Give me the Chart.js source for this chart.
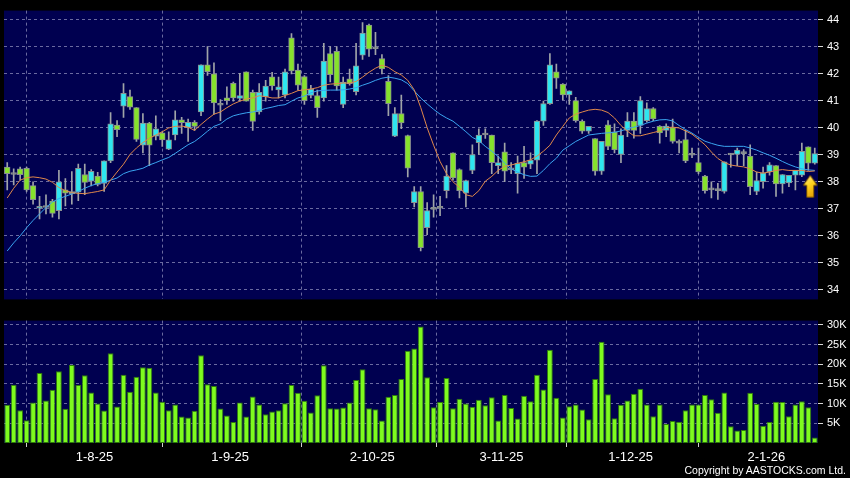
<!DOCTYPE html>
<html><head><meta charset="utf-8">
<script src="https://cdn.jsdelivr.net/npm/chart.js@4.4.1/dist/chart.umd.min.js"></script>
<style>
html,body{margin:0;padding:0;background:#000;width:850px;height:478px;overflow:hidden;}
#wrap{position:relative;width:850px;height:478px;background:#000;}
canvas{position:absolute;left:0;}
#copy{position:absolute;right:4px;top:464px;color:#fff;font:10.5px "Liberation Sans",Arial,sans-serif;white-space:nowrap;}
</style></head><body>
<div id="wrap">
<canvas id="price" width="850" height="310" style="top:0"></canvas>
<canvas id="vol" width="850" height="168" style="top:310px"></canvas>
<div id="copy">Copyright by AASTOCKS.com Ltd.</div>
</div>
<script>
// ---- data (bar index 0..125, daily) ----
const openP = [38.54,38.27,38.48,38.50,37.86,37.02,37.05,37.29,36.93,37.70,37.56,37.62,38.27,38.02,38.21,37.94,38.77,40.10,40.80,41.15,
40.74,39.35,40.17,39.69,39.81,39.21,39.73,40.29,40.00,40.20,40.58,42.32,41.99,40.83,41.10,41.64,41.08,42.07,41.31,40.58,
41.15,41.88,41.40,41.21,43.32,42.13,41.89,41.19,41.19,41.10,42.74,42.82,40.86,41.81,41.33,42.68,43.79,42.92,42.56,41.71,
39.69,40.52,39.71,37.23,37.64,36.30,36.98,37.02,37.67,39.07,38.45,37.58,38.42,39.45,39.73,39.73,38.60,39.11,38.44,38.30,
38.71,38.65,38.80,40.24,40.89,42.07,41.61,41.21,41.00,40.24,39.87,39.60,38.39,40.11,39.85,39.01,39.90,40.24,40.08,40.26,
40.71,40.05,39.90,40.00,39.43,39.56,38.98,38.71,38.21,37.70,37.67,37.64,38.99,39.01,39.04,38.95,37.64,38.00,38.36,38.60,
37.92,37.96,38.24,38.24,39.29,38.69];
const highP = [38.71,38.48,38.54,38.54,38.00,37.46,37.52,37.35,38.42,38.12,38.38,38.65,38.65,38.45,38.35,38.77,40.56,40.26,41.63,41.39,
40.74,40.52,40.20,40.44,39.85,39.85,40.62,40.38,40.32,40.26,42.32,43.00,42.40,41.04,41.51,41.69,42.01,42.07,41.39,41.63,
41.75,42.05,41.87,42.17,43.48,42.35,41.93,41.57,41.39,43.12,43.00,43.00,41.87,42.17,43.12,43.89,43.83,43.53,42.70,41.93,
40.74,41.21,39.73,37.82,37.82,37.23,37.52,37.46,38.60,39.07,38.48,38.06,39.37,39.96,39.96,39.73,38.95,39.43,38.71,38.95,
39.31,39.07,40.26,40.98,42.74,42.35,41.63,41.36,41.12,40.29,40.05,39.60,39.50,40.26,40.14,39.96,40.56,40.56,41.15,40.92,
40.74,40.08,40.14,40.32,39.55,39.90,39.25,39.25,38.24,38.00,37.94,38.74,39.05,39.25,39.19,39.37,38.36,38.54,38.71,38.60,
38.27,38.24,38.42,39.43,39.29,39.25];
const lowP = [37.70,37.88,38.06,37.64,37.17,36.63,36.81,36.69,36.63,37.11,37.17,37.30,37.52,37.85,37.85,37.64,38.71,39.67,40.38,40.68,
39.49,39.07,38.60,39.55,39.31,39.19,39.55,39.79,39.49,39.90,40.44,41.93,40.50,40.26,40.86,40.98,40.98,40.98,39.90,40.50,
40.98,41.39,41.10,41.10,41.99,41.39,40.86,41.10,40.38,40.98,41.69,41.39,40.74,41.57,41.21,42.52,42.64,42.70,41.99,40.44,
39.67,39.96,38.18,37.07,35.44,36.04,36.69,36.75,37.40,38.06,37.40,37.07,38.30,39.01,39.60,38.30,38.30,38.00,38.30,37.58,
38.12,38.48,38.30,40.08,40.86,41.45,41.04,40.86,40.20,39.79,39.79,38.24,38.27,39.19,39.07,38.71,39.67,39.61,39.79,40.20,
40.26,39.43,39.67,39.43,39.07,38.71,38.89,38.30,37.58,37.40,37.35,37.58,38.54,38.60,38.60,37.52,37.52,37.76,38.24,37.46,
37.58,37.82,37.70,38.19,38.42,38.65];
const closeP = [38.30,38.27,38.26,37.70,37.34,37.07,37.05,36.83,38.00,37.58,37.64,38.50,37.98,38.39,37.90,38.77,40.14,39.93,41.27,40.76,
39.57,40.17,39.35,39.96,39.55,39.55,40.29,40.19,40.20,40.05,42.32,42.07,40.92,40.83,41.00,41.10,41.19,40.98,40.23,41.31,
41.54,41.54,41.51,42.07,42.10,41.57,41.00,41.43,40.74,42.46,41.96,41.54,41.69,41.63,42.29,43.50,42.90,42.92,42.17,40.89,
40.52,40.18,38.50,37.64,35.56,36.93,36.98,37.02,38.21,38.14,37.67,38.04,39.01,39.73,39.73,38.71,38.71,38.39,38.44,38.68,
38.54,38.80,40.24,40.89,42.32,41.83,41.21,41.36,40.26,39.87,40.05,38.39,39.50,39.31,39.19,39.73,40.24,39.90,41.00,40.71,
40.32,39.81,40.06,39.49,39.43,38.77,38.98,38.36,37.67,37.70,37.67,38.74,38.99,39.17,39.04,37.82,38.04,38.33,38.63,37.92,
38.27,38.24,38.42,39.13,38.69,39.04];
const maShort = [37.40,37.76,38.06,38.15,38.18,38.15,38.10,37.98,37.79,37.67,37.60,37.57,37.56,37.60,37.64,37.70,38.06,38.36,38.65,39.01,
39.25,39.45,39.61,39.73,39.85,39.99,40.05,40.06,40.02,39.90,40.12,40.32,40.50,40.58,40.74,40.88,40.98,41.06,41.10,41.18,
41.15,41.10,41.10,41.19,41.27,41.37,41.40,41.43,41.48,41.57,41.61,41.63,41.65,41.65,41.71,41.87,42.05,42.20,42.31,42.23,
42.07,41.95,41.75,41.40,40.75,40.00,39.35,38.75,38.30,38.00,37.79,37.52,37.46,37.67,38.02,38.20,38.42,38.57,38.62,38.68,
38.74,38.81,38.95,39.13,39.35,39.73,40.05,40.36,40.50,40.58,40.65,40.68,40.65,40.56,40.36,40.08,39.87,39.70,39.70,39.76,
39.82,39.88,40.00,40.02,39.99,39.88,39.76,39.57,39.37,39.10,38.86,38.71,38.62,38.58,38.55,38.48,38.36,38.32,38.36,38.42,
38.45,38.42,38.42,38.42,38.38,38.40];
const maLong = [35.44,35.74,36.00,36.30,36.57,36.81,37.05,37.25,37.38,37.46,37.55,37.64,37.76,37.86,37.93,37.98,38.06,38.14,38.30,38.39,
38.44,38.50,38.62,38.71,38.81,38.90,39.05,39.21,39.37,39.49,39.67,39.87,40.05,40.14,40.32,40.44,40.50,40.55,40.58,40.64,
40.71,40.76,40.82,40.85,40.98,41.10,41.17,41.29,41.36,41.38,41.39,41.39,41.40,41.43,41.48,41.57,41.65,41.75,41.83,41.87,
41.83,41.77,41.63,41.36,41.10,40.88,40.68,40.50,40.36,40.24,40.05,39.85,39.64,39.52,39.31,39.13,38.93,38.69,38.48,38.36,
38.26,38.20,38.21,38.42,38.67,38.87,39.17,39.33,39.49,39.61,39.73,39.76,39.79,39.81,39.83,39.88,39.96,40.02,40.08,40.17,
40.24,40.29,40.30,40.25,40.08,39.93,39.80,39.64,39.50,39.42,39.35,39.31,39.31,39.31,39.31,39.25,39.17,39.07,38.98,38.87,
38.75,38.64,38.55,38.48,38.44,38.42];
const volumeK = [9.7,14.8,8.3,5.8,10.3,17.8,10.8,13.5,18.2,8.7,19.8,14.7,17.2,12.8,10.0,8.25,22.8,9.25,17.3,13.0,
16.8,19.2,19.1,12.8,10.5,8.3,9.8,6.7,6.5,8.2,22.3,14.9,14.5,8.75,7.0,5.3,10.3,6.7,11.8,9.8,
7.3,8.0,8.3,10.1,14.7,12.75,10.75,7.75,12.1,19.75,8.8,8.75,9.0,10.3,16.0,18.75,8.8,8.6,5.7,11.75,
12.2,16.25,23.4,24.0,29.6,16.7,9.1,10.4,16.5,8.8,11.25,10.0,9.2,11.0,9.6,11.6,5.7,12.2,8.9,6.2,
12.0,10.6,17.3,13.6,23.7,11.5,6.5,9.3,9.8,8.5,6.0,16.25,25.7,12.4,6.3,9.7,10.8,12.5,13.8,9.75,
6.8,9.75,4.8,5.6,5.4,8.3,9.75,9.8,12.2,11.1,7.7,12.8,4.25,3.2,3.3,12.75,9.9,4.4,5.3,10.5,
10.4,6.8,9.8,10.6,9.1,1.4];
const dateLabels = ['1-8-25','1-9-25','2-10-25','3-11-25','1-12-25','2-1-26'];
const dateIndex = [14,35,57,77,97,118];          // first trading day of each labelled month
const priceTicks = [34,35,36,37,38,39,40,41,42,43,44];
const volumeTicks = [5000,10000,15000,20000,25000,30000];
const arrowMarker = {index:124.3, price:37.83};

// ---- styling ----
const NAVY = '#000050';
const GRID = '#6a6aa0';
const CYAN = '#2ee6f0';
const GREEN = '#86e22c';
const FONT = '"Liberation Sans", Arial, sans-serif';
const N = openP.length;
const idx = openP.map((_, i) => i);
const gridPos = dateIndex.map(i => i - 0.5);

const plotBg = {id:'plotBg', beforeDraw(c){const a=c.chartArea, x=c.ctx; x.save(); x.fillStyle=NAVY; x.fillRect(a.left,a.top,a.right-a.left,a.bottom-a.top); x.restore();}};

function xScale(showLabels){
  return {
    type:'linear', min:-0.5, max:N-0.5, offset:false,
    afterBuildTicks: s => { s.ticks = gridPos.map(v => ({value:v})); },
    afterFit: s => { s.height = showLabels ? 35 : 0; },
    ticks:{display:showLabels, autoSkip:false, maxRotation:0, color:'#fff', padding:3,
      font:{family:FONT, size:13},
      callback: v => { const k = gridPos.indexOf(v); return k >= 0 ? dateLabels[k] : ''; }},
    grid:{color:GRID, lineWidth:1, drawTicks:showLabels, tickLength:4, tickColor:'#cfcfcf'},
    border:{display:false, dash:[3,3]}
  };
}
function yScale(min, max, ticks, fmt){
  return {
    position:'right', min, max,
    afterBuildTicks: s => { s.ticks = ticks.map(v => ({value:v})); },
    afterFit: s => { s.width = 32; },
    ticks:{color:'#fff', padding:4, font:{family:FONT, size:11}, callback: fmt},
    grid:{color:GRID, lineWidth:1, drawTicks:true, tickLength:5, tickColor:'#d8d8d8'},
    border:{display:false, dash:[3,3]}
  };
}

// arrow marker image
const arrowImg = document.createElement('canvas');
arrowImg.width = 16; arrowImg.height = 24;
(() => {
  const g = arrowImg.getContext('2d');
  const gr = g.createLinearGradient(0,0,16,24);
  gr.addColorStop(0,'#fff3a0'); gr.addColorStop(0.45,'#ffd21c'); gr.addColorStop(1,'#d88a00');
  g.beginPath();
  g.moveTo(8,1); g.lineTo(15,11); g.lineTo(11.5,11); g.lineTo(11.5,23); g.lineTo(4.5,23); g.lineTo(4.5,11); g.lineTo(1,11); g.closePath();
  g.fillStyle = gr; g.fill();
  g.lineWidth = 1; g.strokeStyle = '#7a5200'; g.stroke();
})();

const bodyColors = idx.map(i => closeP[i] > openP[i] ? CYAN : (closeP[i] < openP[i] ? GREEN : '#8a9090'));

new Chart(document.getElementById('price'), {
  type:'bar',
  data:{datasets:[
    {type:'line', label:'MA short', data: idx.map(i => ({x:i, y:maShort[i]})), borderColor:'#e0884a', borderWidth:1, pointRadius:0, tension:0, order:1},
    {type:'line', label:'MA long', data: idx.map(i => ({x:i, y:maLong[i]})), borderColor:'#3aa4f0', borderWidth:1, pointRadius:0, tension:0, order:1},
    {type:'scatter', label:'marker', data:[{x:arrowMarker.index, y:arrowMarker.price}], pointStyle:arrowImg, pointRadius:10, order:0},
    {label:'body', data: idx.map(i => ({x:i, y:[Math.min(openP[i],closeP[i]), Math.max(openP[i],closeP[i])]})),
      backgroundColor: bodyColors, borderColor:'#8a9090', borderWidth:1, borderSkipped:false,
      minBarLength:2, grouped:false, barThickness:5.7, order:2},
    {label:'wick', data: idx.map(i => ({x:i, y:[lowP[i], highP[i]]})),
      backgroundColor:'#a0a4a8', borderWidth:0, barThickness:1, grouped:false, order:3}
  ]},
  options:{
    responsive:false, animation:false, devicePixelRatio:1,
    layout:{autoPadding:false, padding:{left:4, top:6, right:0, bottom:5}},
    plugins:{legend:{display:false}, tooltip:{enabled:false}},
    scales:{ x: xScale(false), y: yScale(33.65, 44.33, priceTicks, v => String(v)) }
  },
  plugins:[plotBg]
});

new Chart(document.getElementById('vol'), {
  type:'bar',
  data:{datasets:[
    {label:'volume', data: idx.map(i => ({x:i, y:volumeK[i]*1000})),
      backgroundColor:'#7efb1e', borderColor:'#2f7a0c', borderWidth:1, borderSkipped:false,
      barPercentage:0.9, categoryPercentage:1}
  ]},
  options:{
    responsive:false, animation:false, devicePixelRatio:1,
    layout:{autoPadding:false, padding:{left:4, top:9, right:0, bottom:0}},
    plugins:{legend:{display:false}, tooltip:{enabled:false}},
    scales:{ x: xScale(true), y: yScale(0, 31075, volumeTicks, v => (v/1000) + 'K') }
  },
  plugins:[plotBg]
});
</script>
</body></html>
